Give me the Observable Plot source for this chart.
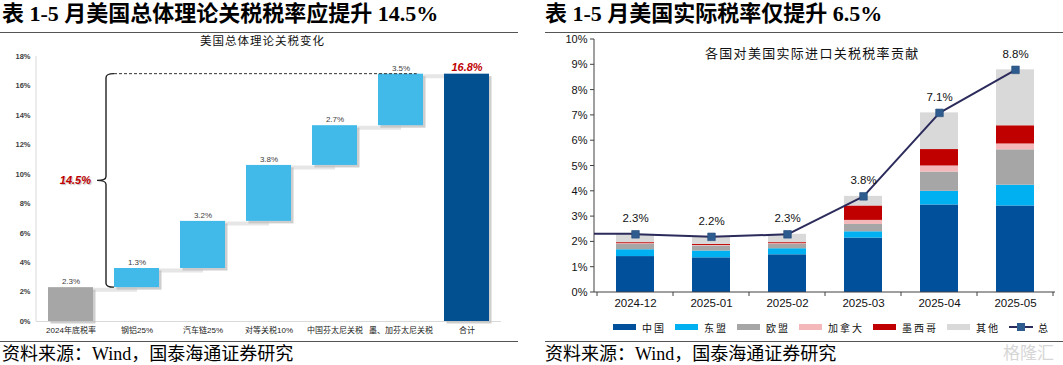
<!DOCTYPE html>
<html><head><meta charset="utf-8">
<script src="https://cdn.jsdelivr.net/npm/d3@7"></script>
<script src="https://cdn.jsdelivr.net/npm/@observablehq/plot@0.6"></script>
<style>
html,body{margin:0;padding:0;background:#fff;}
#root{position:relative;width:1063px;height:365px;overflow:hidden;font-family:"Liberation Serif","Noto Sans CJK SC",serif;color:#000;}
.abs{position:absolute;white-space:nowrap;}
.title{top:1px;font-size:22px;font-weight:bold;line-height:26px;}
.hr{height:0;border-top:1.5px solid #555;}
.foot{top:343px;font-size:18px;line-height:22px;}
.sub{font-family:"Noto Sans CJK SC",sans-serif;color:#111;}
#legend{display:flex;align-items:center;font-family:"Noto Sans CJK SC",sans-serif;font-size:10px;letter-spacing:2px;color:#111;}
#legend .it{display:flex;align-items:center;margin-right:9px;}
#legend .sw{display:inline-block;width:23px;height:6px;margin-right:6px;}
</style>
</head><body>
<div id="root">
  <div class="abs title" style="left:2px">表 1-5 月美国总体理论关税税率应提升 14.5%</div>
  <div class="abs hr" style="left:0;top:32px;width:518px"></div>
  <div class="abs title" style="left:545px">表 1-5 月美国实际税率仅提升 6.5%</div>
  <div class="abs hr" style="left:545px;top:32px;width:518px"></div>

  <div id="leftChart" class="abs" style="left:0;top:34px"></div>
  <div class="abs sub" style="left:0;top:33px;width:525px;text-align:center;font-size:11.5px;letter-spacing:1px;line-height:14px">美国总体理论关税变化</div>

  <div id="rightChart" class="abs" style="left:530px;top:34px"></div>
  <div class="abs sub" style="left:705px;top:44px;font-size:13px;letter-spacing:1.3px;line-height:18px">各国对美国实际进口关税税率贡献</div>
  <div id="legend" class="abs" style="left:613px;top:320px;height:14px"></div>

  <div class="abs hr" style="left:0;top:341px;width:518px;border-top-width:1.2px"></div>
  <div class="abs hr" style="left:545px;top:341px;width:518px;border-top-width:1.2px"></div>
  <div class="abs foot" style="left:2px">资料来源：Wind，国泰海通证券研究</div>
  <div class="abs foot" style="left:545px">资料来源：Wind，国泰海通证券研究</div>
  <div class="abs" style="left:1003px;top:341px;font-family:'Noto Sans CJK SC';font-size:17px;color:#d6d6d6;line-height:22px">格隆汇</div>
</div>
<script>
// ---------- Left chart data (waterfall) ----------
const wfCategories = ["2024年底税率", "钢铝25%", "汽车链25%", "对等关税10%", "中国芬太尼关税", "墨、加芬太尼关税", "合计"];
const wfSteps = [2.3, 1.3, 3.2, 3.8, 2.7, 3.5];
const wfTotal = 16.8;
const wfIncrease = 14.5;
const wfYTicks = [0, 2, 4, 6, 8, 10, 12, 14, 16, 18];

// ---------- Right chart data ----------
const months = ["2024-12", "2025-01", "2025-02", "2025-03", "2025-04", "2025-05"];
const regions = ["中国", "东盟", "欧盟", "加拿大", "墨西哥", "其他"];
const china  = [1.42, 1.37, 1.49, 2.15, 3.46, 3.42];
const asean  = [0.27, 0.27, 0.24, 0.25, 0.54, 0.82];
const eu     = [0.22, 0.20, 0.18, 0.29, 0.76, 1.40];
const canada = [0.02, 0.02, 0.02, 0.16, 0.24, 0.23];
const mexico = [0.04, 0.04, 0.04, 0.57, 0.65, 0.72];
const other  = [0.33, 0.30, 0.33, 0.38, 1.45, 2.21];
const totalRate = [2.3, 2.2, 2.3, 3.8, 7.1, 8.8];
const totalLabel = "总";
const rateYTicks = [0, 1, 2, 3, 4, 5, 6, 7, 8, 9, 10];

// ---------- styles ----------
const regionColors = ["#00509B", "#00B0F0", "#A6A6A6", "#F4B8BA", "#C00000", "#D9D9D9"];
const wfFill = {base: "#A6A6A6", step: "#41BAEA", total: "#02508F"};
const lineColor = "#2B2B5C";
const markerColor = "#2F5C8F";
const sansFont = "'Liberation Sans','Noto Sans CJK SC',sans-serif";
const bwOf = s => typeof s.bandwidth === "function" ? s.bandwidth() : (s.bandwidth || 0);

// ---------- Left chart ----------
let acc = 0;
const wfRows = wfSteps.map((v, i) => {
  const r = {cat: wfCategories[i], y1: acc, y2: acc + v, v, kind: i === 0 ? "base" : "step"};
  acc += v;
  return r;
});
wfRows.push({cat: wfCategories[wfCategories.length - 1], y1: 0, y2: wfTotal, v: wfTotal, kind: "total"});
const connectors = wfRows.slice(0, -1).map((r, i) => ({from: r.cat, to: wfRows[i + 1].cat, y: r.y2}));

function leftDecor(index, {x, y}, values, dim) {
  const g = d3.create("svg:g").attr("fill", "none");
  const bw = bwOf(x);
  g.append("line").attr("x1", dim.marginLeft).attr("x2", dim.marginLeft)
    .attr("y1", y(wfYTicks[wfYTicks.length - 1])).attr("y2", y(0)).attr("stroke", "#D9D9D9");
  const xr = x(wfCategories[1]);
  const xl = xr - 8, tip = xl - 9;
  const yt = y(wfTotal), yb = y(wfSteps[0]), ym = (yt + yb) / 2;
  const r = 4;
  g.append("line").attr("x1", xr).attr("x2", x(wfCategories[5]) + bw * 0.86)
    .attr("y1", yt).attr("y2", yt).attr("stroke", "#333").attr("stroke-dasharray", "3,2");
  g.append("path")
    .attr("d", `M${xr},${yt} Q${xl},${yt} ${xl},${yt + r} V${ym - r} Q${xl},${ym} ${tip},${ym} Q${xl},${ym} ${xl},${ym + r} V${yb - r} Q${xl},${yb} ${xr},${yb}`)
    .attr("stroke", "#222").attr("stroke-width", 1.4);
  g.append("text").attr("x", tip - 6).attr("y", ym).attr("dy", "0.35em")
    .attr("text-anchor", "end").attr("fill", "#C00000")
    .attr("font-size", 11).attr("font-weight", "bold").attr("font-style", "italic")
    .attr("style", "text-shadow:1px 1px 1px rgba(0,0,0,0.25)")
    .text(wfIncrease.toFixed(1) + "%");
  return g.node();
}

const leftPlot = Plot.plot({
  width: 525, height: 306,
  marginTop: 22, marginBottom: 19, marginLeft: 36, marginRight: 24,
  style: {fontFamily: sansFont, background: "transparent", overflow: "visible"},
  x: {domain: wfCategories, paddingInner: 0.32, paddingOuter: 0.16, axis: null},
  y: {domain: [0, 18], axis: null},
  marks: [
    Plot.ruleY([0], {stroke: "#D9D9D9"}),
    Plot.link(connectors, {x1: "from", x2: "to", y1: "y", y2: "y", stroke: "#E6E6E6", strokeWidth: 4, dy: 2}),
    Plot.barY(wfRows, {x: "cat", y1: "y1", y2: "y2", fill: "#BDBDBD", fillOpacity: 0.75, dx: 2.5, dy: 2.5}),
    Plot.barY(wfRows, {x: "cat", y1: "y1", y2: "y2", fill: d => wfFill[d.kind]}),
    Plot.text(wfRows.slice(0, -1), {x: "cat", y: "y2", text: d => d.v.toFixed(1) + "%", dy: -6, fontSize: 8, fill: "#404040"}),
    Plot.text(wfRows.slice(-1), {x: "cat", y: "y2", text: d => d.v.toFixed(1) + "%", dy: -7, fontSize: 11, fontWeight: "bold", fontStyle: "italic", fill: "#C00000"}),
    Plot.text(wfYTicks, {y: d => d, frameAnchor: "left", dx: -6, textAnchor: "end", text: d => d + "%", fontSize: 7.5, fontWeight: "bold", fill: "#404040"}),
    Plot.text(wfCategories, {x: d => d, frameAnchor: "bottom", dy: 11, fontSize: 8, fill: "#222"}),
    leftDecor
  ]
});
document.getElementById("leftChart").appendChild(leftPlot);

// ---------- Right chart ----------
const seriesByRegion = [china, asean, eu, canada, mexico, other];
const stackRows = months.flatMap((m, i) => regions.map((r, j) => ({month: m, region: r, value: seriesByRegion[j][i]})));
const totalRows = months.map((m, i) => ({month: m, total: totalRate[i]}));

function rightDecor(index, {x, y}, values, dim) {
  const g = d3.create("svg:g").attr("fill", "none").attr("stroke", "#404040");
  const bw = bwOf(x);
  const step = x(months[1]) - x(months[0]);
  const L = dim.marginLeft, R = dim.width - dim.marginRight;
  const B = y(0), T = y(rateYTicks[rateYTicks.length - 1]);
  g.append("line").attr("x1", L).attr("x2", L).attr("y1", T).attr("y2", B);
  g.append("line").attr("x1", L).attr("x2", R).attr("y1", B).attr("y2", B);
  for (const t of rateYTicks) {
    g.append("line").attr("x1", L - 4).attr("x2", L).attr("y1", y(t)).attr("y2", y(t));
  }
  const x0 = x(months[0]) - (step - bw) / 2;
  for (let i = 0; i <= months.length; i++) {
    const xb = x0 + i * step;
    g.append("line").attr("x1", xb).attr("x2", xb).attr("y1", B).attr("y2", B + 4);
  }
  g.append("line").attr("x1", L).attr("x2", x(months[0]) + bw / 2)
    .attr("y1", y(totalRate[0])).attr("y2", y(totalRate[0]))
    .attr("stroke", lineColor).attr("stroke-width", 2);
  return g.node();
}

const rightPlot = Plot.plot({
  width: 533, height: 284,
  marginTop: 5, marginBottom: 26, marginLeft: 64, marginRight: 8,
  style: {fontFamily: sansFont, background: "transparent", overflow: "visible"},
  x: {domain: months, paddingInner: 0.5, paddingOuter: 0.25, axis: null},
  y: {domain: [0, 10], axis: null},
  color: {domain: regions, range: regionColors},
  marks: [
    Plot.barY(stackRows, {x: "month", y: "value", fill: "region"}),
    rightDecor,
    Plot.line(totalRows, {x: "month", y: "total", stroke: lineColor, strokeWidth: 2, curve: "linear"}),
    Plot.dot(totalRows, {x: "month", y: "total", symbol: "square", r: 4.3, fill: markerColor, stroke: "#244a78", strokeWidth: 0.6}),
    Plot.text(totalRows, {x: "month", y: "total", text: d => d.total.toFixed(1) + "%", dy: -16, fontSize: 11.5, fill: "#111"}),
    Plot.text(rateYTicks, {y: d => d, frameAnchor: "left", dx: -7, textAnchor: "end", text: d => d + "%", fontSize: 11, fill: "#111"}),
    Plot.text(months, {x: d => d, frameAnchor: "bottom", dy: 14, fontSize: 11.5, fill: "#111"})
  ]
});
document.getElementById("rightChart").appendChild(rightPlot);

// ---------- Legend ----------
const legend = document.getElementById("legend");
regions.forEach((r, i) => {
  const it = document.createElement("div");
  it.className = "it";
  it.innerHTML = `<span class="sw" style="background:${regionColors[i]}"></span><span>${r}</span>`;
  legend.appendChild(it);
});
const lit = document.createElement("div");
lit.className = "it";
lit.innerHTML = `<svg width="24" height="10" style="margin-right:5px"><line x1="0" x2="24" y1="5" y2="5" stroke="${lineColor}" stroke-width="2"/><rect x="8" y="1" width="8" height="8" fill="${markerColor}"/></svg><span>${totalLabel}</span>`;
legend.appendChild(lit);
</script>
</body></html>
